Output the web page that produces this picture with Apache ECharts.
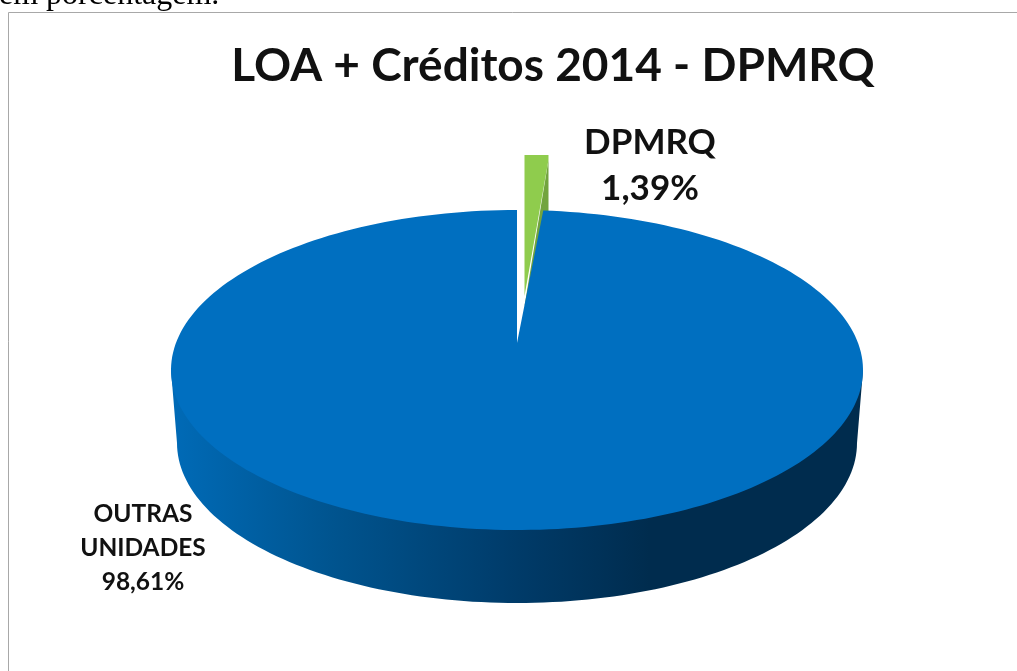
<!DOCTYPE html>
<html>
<head>
<meta charset="utf-8">
<style>html,body{margin:0;padding:0;background:#fff;overflow:hidden}#c{width:1017px;height:671px}</style>
<script src="https://cdn.jsdelivr.net/npm/echarts@6/dist/echarts.min.js"></script>
</head>
<body>
<div id="c"></div>
<script>
const categories = ['DPMRQ', 'OUTRAS UNIDADES'];
const values = [1.39, 98.61];
const titleText = 'LOA + Créditos 2014 - DPMRQ';
const introText = 'em porcentagem.';

const chart = echarts.init(document.getElementById('c'), null, {renderer: 'canvas'});
const total = values.reduce((a, b) => a + b, 0);

function ellipsePt(cx, cy, rx, ry, deg) {
  const t = deg * Math.PI / 180;
  return [cx + rx * Math.sin(t), cy - ry * Math.cos(t)];
}
function arcPts(cx, cy, rx, ry, a0, a1) {
  const pts = [], n = Math.max(2, Math.ceil(Math.abs(a1 - a0) / 1.5));
  for (let i = 0; i <= n; i++) pts.push(ellipsePt(cx, cy, rx, ry, a0 + (a1 - a0) * i / n));
  return pts;
}
const backCompress = 0.87;

function renderItem(params, api) {
  const share = api.value(0) / total * 360;
  const cs = [];
  if (params.dataIndex === 0) {
    const a = share * backCompress, rx = 316, ry = 1, cy = 156;
    const arc = arcPts(524.5, cy, rx, ry, 0, a);
    const end = arc[arc.length - 1];
    cs.push({type: 'polygon', shape: {points: [[524.5, 306], [end[0], end[1] + 5], [end[0], 250]]},
      style: {fill: '#72a43e'}});
    cs.push({type: 'polygon', shape: {points: [[524.5, 296]].concat(arc, [[end[0], end[1] + 5]])},
      style: {fill: '#8fcc4d'}});
    cs.push({type: 'text', style: {text: categories[0] + '\n' + api.value(0).toFixed(2).replace('.', ',') + '%',
      x: 650, y: 166, align: 'center', verticalAlign: 'middle', fill: '#111',
      font: 'bold 35px Lato', lineHeight: 46}});
  } else {
    const start = (360 - share) * backCompress;
    const cx = 517, cy = 370, rx = 346, ry = 160, dy = 73, brx = 340;
    const botLower = arcPts(cx, cy + dy, brx, ry, 270, 90);
    cs.push({type: 'polygon', shape: {points: [[cx - rx, cy], [cx + rx, cy]].concat(arcPts(cx, cy + dy, brx, ry, 90, 270))},
      style: {fill: new echarts.graphic.LinearGradient(175, 0, 650, 0, [
        {offset: 0, color: '#006ab6'}, {offset: 0.33, color: '#00548f'},
        {offset: 0.72, color: '#003b69'}, {offset: 1, color: '#002c4e'}], true)}});
    cs.push({type: 'polygon', shape: {points: [[cx, 343]].concat(arcPts(cx, cy, rx, ry, start, 360))},
      style: {fill: '#006fc0'}});
    cs.push({type: 'text', style: {text: 'OUTRAS\nUNIDADES\n' + api.value(0).toFixed(2).replace('.', ',') + '%',
      x: 143, y: 548, align: 'center', verticalAlign: 'middle', fill: '#111',
      font: 'bold 24.5px Lato', lineHeight: 34}});
  }
  return {type: 'group', children: cs};
}

chart.setOption({
  animation: false,
  backgroundColor: '#fff',
  title: {text: titleText, left: 548, top: 38, textAlign: 'center',
    textStyle: {fontFamily: 'Lato', fontWeight: 'bold', fontSize: 46, color: '#111'}},
  graphic: [
    {type: 'text', x: -1, y: -4.5, style: {text: introText, font: '32px "Liberation Serif"', fill: '#000', verticalAlign: 'middle'}},
    {type: 'line', shape: {x1: 8.5, y1: 12.5, x2: 1017, y2: 12.5}, style: {stroke: '#a8a8a8', lineWidth: 1}},
    {type: 'line', shape: {x1: 8.5, y1: 12.5, x2: 8.5, y2: 671}, style: {stroke: '#a8a8a8', lineWidth: 1}}
  ],
  series: [{
    type: 'custom',
    coordinateSystem: 'none',
    renderItem: renderItem,
    encode: {value: 0},
    data: values.map((v, i) => ({name: categories[i], value: [v]}))
  }]
});
</script>
</body>
</html>
